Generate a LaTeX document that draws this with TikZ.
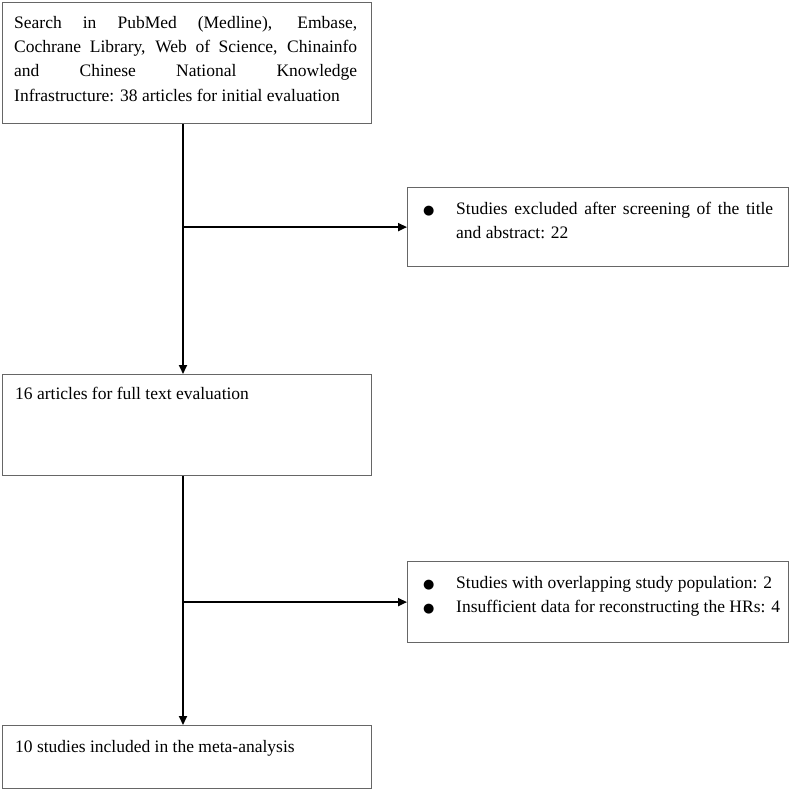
\documentclass[tikz,border=0pt]{standalone}
\usepackage{fontspec}
\setmainfont{Liberation Serif}
\newfontfamily\dotfont{DejaVu Sans}
\usetikzlibrary{arrows.meta}
\newcommand{\itm}{\makebox[33pt][l]{\dotfont\fontsize{13}{13}\selectfont ●}}

\begin{document}
\begin{tikzpicture}[x=1pt,y=-1pt,>={Triangle[length=9pt,width=8pt]},
	box/.style={draw=black!60,line width=1.2pt,anchor=north west,inner sep=0pt},
	txt/.style={anchor=north west,inner sep=0pt,font=\fontsize{17.5}{24.3}\selectfont},
	flow/.style={->,line width=1.8pt}]
	\useasboundingbox (0,0) rectangle (800,790);
	% boxes
	\node[box,minimum width=369,minimum height=121] (search) at (2,2) {};
	\node[box,minimum width=381,minimum height=79] (excl1) at (407,187) {};
	\node[box,minimum width=369,minimum height=101] (full) at (2,374) {};
	\node[box,minimum width=381,minimum height=81] (excl2) at (407,561) {};
	\node[box,minimum width=369,minimum height=63] (incl) at (2,725) {};
	% texts
	\node[txt,text width=343,align=justify] (searchtxt) at ([shift={(12,14)}]search.north west) {Search in PubMed (Medline), Embase,\linebreak Cochrane Library, Web of Science, Chinainfo\linebreak and Chinese National Knowledge\linebreak Infrastructure: 38 articles for initial evaluation};
	\node[txt,align=left] (excl1txt) at ([shift={(16,15)}]excl1.north west) {\itm\parbox[t]{317pt}{Studies excluded after screening of the title\linebreak and abstract: 22}};
	\node[txt,align=left] (fulltxt) at ([shift={(13,13)}]full.north west) {16 articles for full text evaluation};
	\node[txt,align=left] (excl2txt) at ([shift={(16,15)}]excl2.north west) {\itm Studies with overlapping study population: 2\\ \itm Insufficient data for reconstructing the HRs: 4};
	\node[txt,align=left] (incltxt) at ([shift={(13,15)}]incl.north west) {10 studies included in the meta-analysis};
	% arrows
	\coordinate (spine) at (183,0);
	\draw[flow] (search.south -| spine) -- (full.north -| spine);
	\draw[flow] (spine |- excl1.west) -- (excl1.west);
	\draw[flow] (full.south -| spine) -- (incl.north -| spine);
	\draw[flow] (spine |- excl2.west) -- (excl2.west);
\end{tikzpicture}
\end{document}
